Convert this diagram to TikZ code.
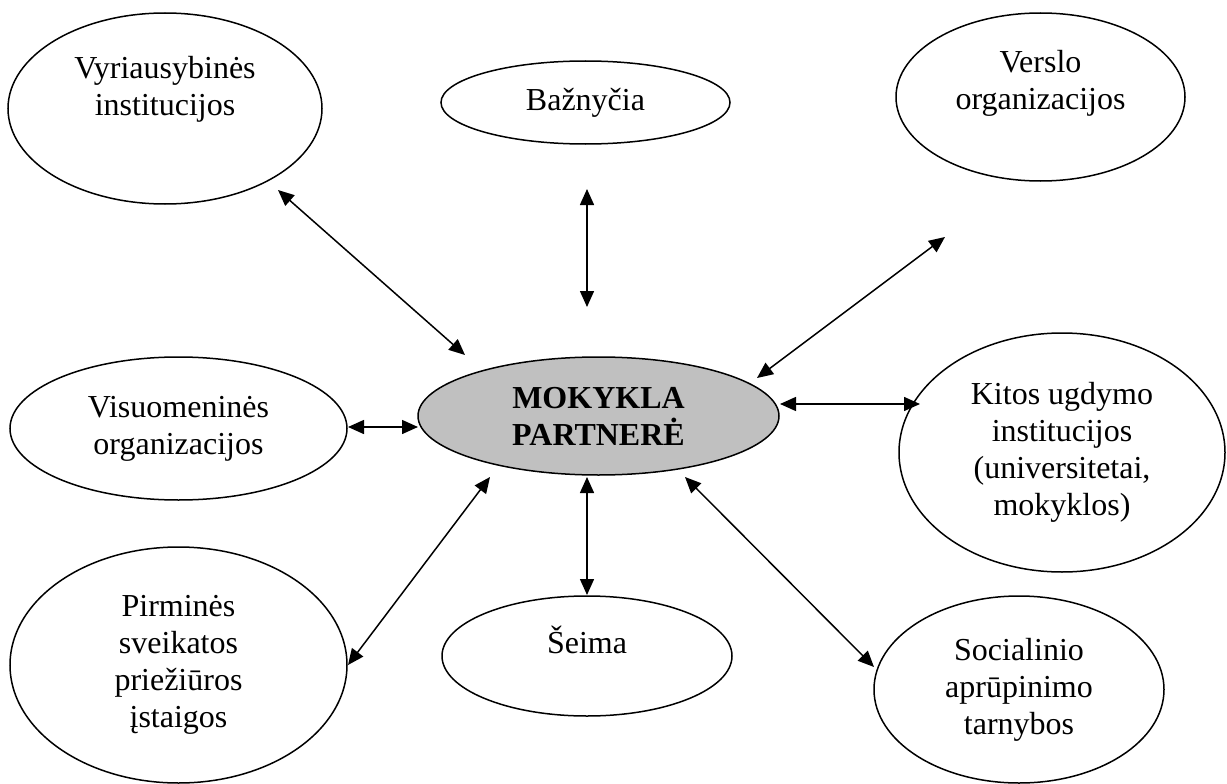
\documentclass[tikz,border=0pt]{standalone}
\usepackage{fontspec}
\setmainfont{Liberation Serif}
\usetikzlibrary{shapes.geometric, arrows.meta}

\begin{document}
\begin{tikzpicture}[
    x=1pt, y=-1pt, % pixel-like coordinates, y pointing down
    partner/.style={
      ellipse,
      draw=black,
      line width=1.5pt,
      inner sep=0pt,
      align=center,
      font=\fontsize{32pt}{37pt}\selectfont
    },
    link/.style={line width=1.5pt, <->, >={Triangle[length=16pt, width=14pt]}}
  ]
    \useasboundingbox (0,0) rectangle (1227,784);

    % The school in the middle
    \node[
      partner,
      minimum width=361pt,
      minimum height=118pt,
      fill={rgb,255:red,192; green,192; blue,192},
      font=\fontsize{32pt}{37pt}\selectfont\bfseries
    ] (school) at (598.5,416) {MOKYKLA\\PARTNERĖ};

    % Partners, top row
    \node[
      partner,
      minimum width=314pt,
      minimum height=191pt,
      text depth=45pt
    ] (gov) at (165,108.5) {Vyriausybinės\\institucijos};
    \node[
      partner,
      minimum width=289pt,
      minimum height=83pt
    ] (church) at (585.5,102.5) {Bažnyčia};
    \node[
      partner,
      minimum width=289pt,
      minimum height=168pt,
      text depth=34pt
    ] (business) at (1040.5,97) {Verslo\\organizacijos};

    % Partners, middle row
    \node[
      partner,
      minimum width=337pt,
      minimum height=143pt
    ] (public) at (178.5,428.5) {Visuomeninės\\organizacijos};
    \node[
      partner,
      minimum width=326pt,
      minimum height=239pt
    ] (edu) at (1062,452.5) {Kitos ugdymo\\institucijos\\(universitetai,\\mokyklos)};

    % Partners, bottom row
    \node[
      partner,
      minimum width=337pt,
      minimum height=236pt
    ] (health) at (178.5,665) {Pirminės\\sveikatos\\priežiūros\\įstaigos};
    \node[
      partner,
      minimum width=290pt,
      minimum height=120pt,
      text depth=32pt
    ] (family) at (587,656) {Šeima};
    \node[
      partner,
      minimum width=290pt,
      minimum height=187pt
    ] (social) at (1019,689.5) {Socialinio\\aprūpinimo\\tarnybos};

    % Arrow ends, kept off the ellipses
    \coordinate (gov-a) at (278,190);
    \coordinate (gov-b) at (465,355);
    \coordinate (church-a) at (587,189);
    \coordinate (church-b) at (587,307);
    \coordinate (business-a) at (945,237);
    \coordinate (business-b) at (757,378);
    \coordinate (public-a) at (348,427);
    \coordinate (public-b) at (418,427);
    \coordinate (edu-a) at (920,404);
    \coordinate (edu-b) at (780,404);
    \coordinate (health-a) at (348,665);
    \coordinate (health-b) at (490,477);
    \coordinate (family-a) at (587,595);
    \coordinate (family-b) at (587,477);
    \coordinate (social-a) at (874,667);
    \coordinate (social-b) at (685,477);

    % Two-way links with the school
    \foreach \who in {gov, church, business, public, edu, health, family, social}
      \draw[link] (\who-a) -- (\who-b);
  \end{tikzpicture}
\end{document}
